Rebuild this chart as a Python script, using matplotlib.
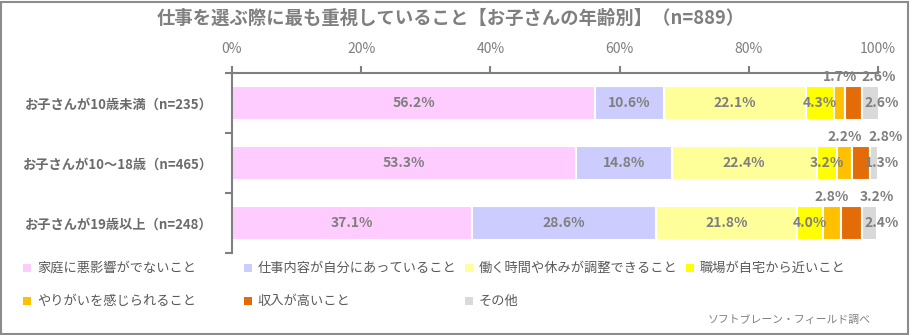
import matplotlib.pyplot as plt
from matplotlib.patches import Rectangle
import numpy as np

plt.rcParams['font.family'] = ['Noto Sans CJK JP', 'DejaVu Sans']

# 仕事を選ぶ際に最も重視していること（お子さんの年齢別）
groups = ["お子さんが10歳未満（n=235）", "お子さんが10～18歳（n=465）", "お子さんが19歳以上（n=248）"]
items = ["家庭に悪影響がでないこと", "仕事内容が自分にあっていること", "働く時間や休みが調整できること",
         "職場が自宅から近いこと", "やりがいを感じられること", "収入が高いこと", "その他"]
colors = ["#FFCCFF", "#CCCCFF", "#FFFF99", "#FFFF00", "#FFC000", "#E36C09", "#D9D9D9"]

katei = [56.2, 53.3, 37.1]
naiyou = [10.6, 14.8, 28.6]
jikan = [22.1, 22.4, 21.8]
kinjo = [4.3, 3.2, 4.0]
yarigai = [1.7, 2.2, 2.8]
shunyu = [2.6, 2.8, 3.2]
sonota = [2.6, 1.3, 2.4]
series = [katei, naiyou, jikan, kinjo, yarigai, shunyu, sonota]

gray = "#7F7F7F"
fig = plt.figure(figsize=(9.1, 3.35), dpi=100)
ax = fig.add_axes([232/910, 1-253/335, 646/910, 180/335])

y = np.arange(len(groups))
h = 0.555
left = np.zeros(len(groups))
for k, vals in enumerate(series):
    vals = np.array(vals)
    ax.barh(y, vals, left=left, height=h, color=colors[k], edgecolor="white", linewidth=1.5)
    for i, v in enumerate(vals):
        c = left[i] + v / 2
        if k in (4, 5):
            dx = 0 if k == 4 else 18
            ax.annotate(f"{v:.1f}%", (c, y[i] - h/2), xytext=(dx, 7), textcoords="offset points",
                        ha="center", va="center", fontsize=10, fontweight="bold", color=gray)
        elif k == 6:
            ax.annotate(f"{v:.1f}%", (100, y[i]), xytext=(3, 0), textcoords="offset points",
                        ha="center", va="center", fontsize=10, fontweight="bold", color=gray)
        else:
            ax.text(c, y[i], f"{v:.1f}%", ha="center", va="center", fontsize=10,
                    fontweight="bold", color=gray)
    left += vals

ax.set_xlim(0, 100)
ax.set_ylim(len(groups) - 0.5, -0.5)
ax.xaxis.tick_top()
ax.set_xticks(np.arange(0, 101, 20))
ax.set_xticklabels([f"{t}%" for t in range(0, 101, 20)])
ax.tick_params(axis="x", colors=gray, labelcolor=gray, labelsize=10, length=5, width=1.5, pad=7)
ax.set_yticks(y)
ax.set_yticklabels(groups, fontsize=9.5, fontweight="bold", color="#6B6B6B")
ax.set_yticks(np.arange(-0.5, len(groups)), minor=True)
ax.tick_params(axis="y", which="major", length=0, pad=14)
ax.tick_params(axis="y", which="minor", length=5, width=1.5, color=gray)
for s in ["bottom", "right"]:
    ax.spines[s].set_visible(False)
for s in ["top", "left"]:
    ax.spines[s].set_color(gray)
    ax.spines[s].set_linewidth(1.5)

fig.text(451/910, 1-18/335, "仕事を選ぶ際に最も重視していること【お子さんの年齢別】（n=889）",
         ha="center", va="center", fontsize=13.2, fontweight="bold", color=gray)

# legend, 4 columns
for i, (name, col) in enumerate(zip(items, colors)):
    cx = (27 + 221 * (i % 4)) / 910
    cy = 1 - (268 + 33 * (i // 4)) / 335
    fig.patches.append(Rectangle((cx - 4/910, cy - 4/335), 8/910, 8/335, transform=fig.transFigure,
                                 facecolor=col, edgecolor="none"))
    fig.text(cx + 10/910, cy, name, ha="left", va="center", fontsize=9.5, color="#595959")

fig.text(871/910, 1-320/335, "ソフトブレーン・フィールド調べ", ha="right", va="center",
         fontsize=7.8, color=gray)

fig.patches.append(Rectangle((1/910, 1/335), 907/910, 332/335, transform=fig.transFigure,
                             facecolor="none", edgecolor="#8C8C8C", linewidth=1.5))

fig.savefig("out.png", dpi=100)
